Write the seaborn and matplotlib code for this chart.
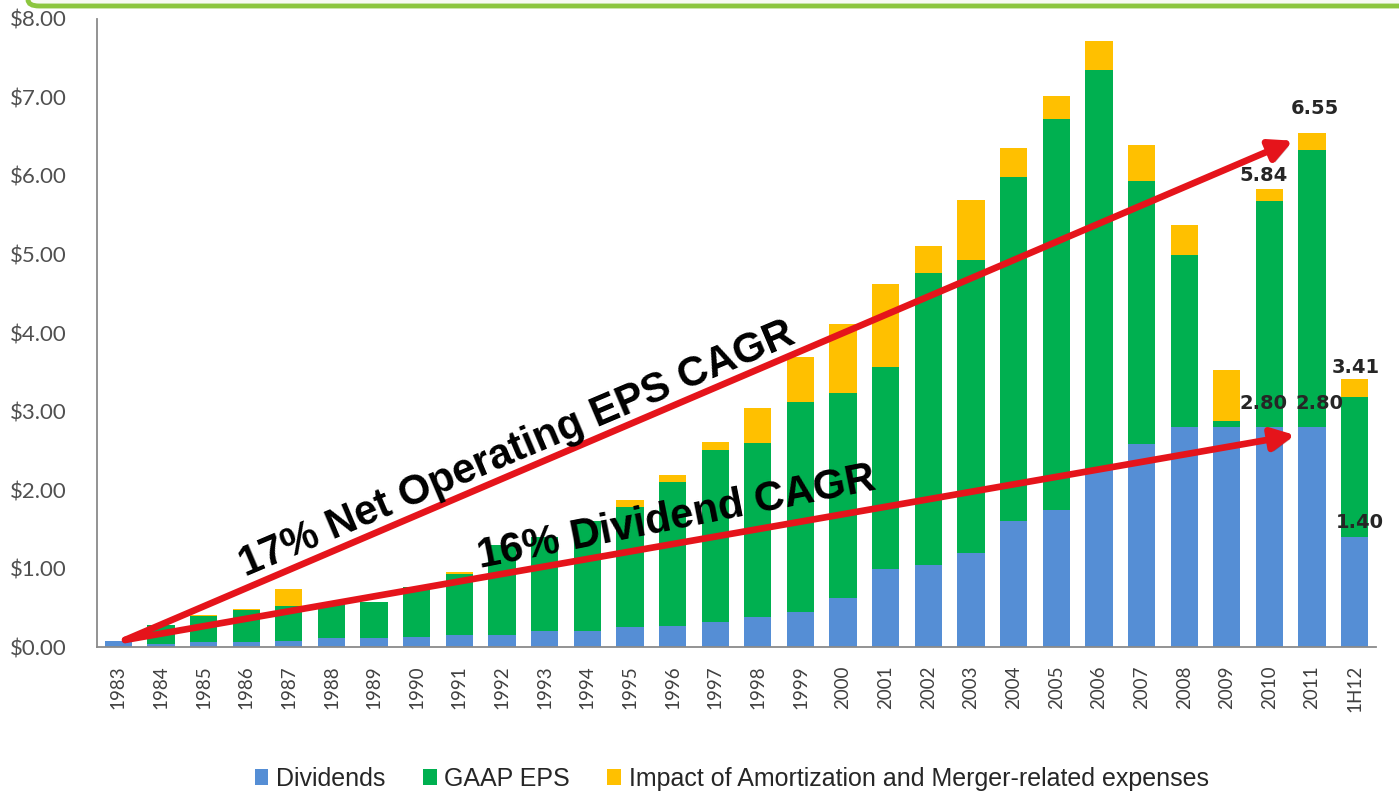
import pandas as pd
import matplotlib
matplotlib.use("Agg")
import matplotlib.pyplot as plt
import matplotlib.patheffects as pe
from matplotlib.patches import Patch, FancyBboxPatch
import seaborn as sns

years = ["1983", "1984", "1985", "1986", "1987", "1988", "1989", "1990", "1991", "1992",
         "1993", "1994", "1995", "1996", "1997", "1998", "1999", "2000", "2001", "2002",
         "2003", "2004", "2005", "2006", "2007", "2008", "2009", "2010", "2011", "1H12"]

dividends = [0.08, 0.04, 0.06, 0.07, 0.08, 0.11, 0.11, 0.13, 0.15, 0.15,
             0.20, 0.21, 0.26, 0.27, 0.32, 0.38, 0.44, 0.63, 1.00, 1.04,
             1.20, 1.61, 1.75, 2.25, 2.59, 2.80, 2.80, 2.80, 2.80, 1.40]

gaap_eps = [0.08, 0.28, 0.40, 0.47, 0.52, 0.55, 0.57, 0.76, 0.93, 1.30,
            1.40, 1.60, 1.78, 2.10, 2.51, 2.60, 3.12, 3.23, 3.57, 4.77,
            4.93, 5.99, 6.73, 7.35, 5.94, 5.00, 2.88, 5.68, 6.33, 3.19]

# GAAP EPS + impact of amortization and merger-related expenses
operating_eps = [0.08, 0.28, 0.41, 0.49, 0.74, 0.55, 0.57, 0.76, 0.95, 1.30,
                 1.40, 1.60, 1.87, 2.19, 2.61, 3.05, 3.69, 4.11, 4.63, 5.11,
                 5.69, 6.36, 7.02, 7.72, 6.39, 5.37, 3.53, 5.84, 6.55, 3.41]

legend_labels = ["Dividends", "GAAP EPS", "Impact of Amortization and Merger-related expenses"]

df = pd.DataFrame({"year": years, "dividends": dividends,
                   "gaap_eps": gaap_eps, "operating_eps": operating_eps})

BLUE = "#558ED5"
GREEN = "#00B050"
YELLOW = "#FFC000"
RED = "#E5141B"

sns.set_theme(style="white")
plt.rcParams["font.family"] = ["Lato", "DejaVu Sans"]

fig = plt.figure(figsize=(13.99, 7.98), dpi=100)
ax = fig.add_axes([0.0693, 0.1892, 0.9143, 0.787])

# overlapping bars drawn tallest first give the stacked look
sns.barplot(data=df, x="year", y="operating_eps", order=years, color=YELLOW,
            saturation=1, width=0.64, linewidth=0, ax=ax)
sns.barplot(data=df, x="year", y="gaap_eps", order=years, color=GREEN,
            saturation=1, width=0.64, linewidth=0, ax=ax)
sns.barplot(data=df, x="year", y="dividends", order=years, color=BLUE,
            saturation=1, width=0.64, linewidth=0, ax=ax)

ax.set_xlim(-0.5, len(years) - 0.5)
ax.set_ylim(0, 8)
ax.set_yticks(range(0, 9))
ax.set_yticklabels([f"${v:.2f}" for v in range(0, 9)])
ax.set_xlabel("")
ax.set_ylabel("")
ax.tick_params(axis="y", length=0, pad=22, labelsize=16, labelcolor="#505050")
ax.tick_params(axis="x", length=0, pad=13, labelsize=13.5, labelcolor="#404040", rotation=90)

for side in ["top", "right"]:
    ax.spines[side].set_visible(False)
for side in ["left", "bottom"]:
    ax.spines[side].set_color("#8a8a8a")
    ax.spines[side].set_linewidth(1.3)

# CAGR arrows
shadow = [pe.withSimplePatchShadow(offset=(2, -2), alpha=0.3)]
for tip in [(27.55, 6.45), (27.6, 2.70)]:
    ann = ax.annotate("", xy=tip, xytext=(0.16, 0.09),
                      arrowprops=dict(arrowstyle="-|>", lw=4.8, color=RED,
                                      mutation_scale=34, shrinkA=0, shrinkB=0))
    ann.arrow_patch.set_path_effects(shadow)

ax.text(9.35, 2.52, "17% Net Operating EPS CAGR", rotation=23, rotation_mode="anchor",
        ha="center", va="center", fontsize=30, fontweight="bold",
        family=["Liberation Sans", "DejaVu Sans"], color="black")
ax.text(13.1, 1.64, "16% Dividend CAGR", rotation=11.2, rotation_mode="anchor",
        ha="center", va="center", fontsize=30, fontweight="bold",
        family=["Liberation Sans", "DejaVu Sans"], color="black")

# data labels
i2010, i2011, ih12 = years.index("2010"), years.index("2011"), years.index("1H12")
labels = [
    (i2011 + 0.07, operating_eps[i2011] + 0.31, operating_eps[i2011]),
    (i2010 - 0.15, operating_eps[i2010] + 0.16, operating_eps[i2010]),
    (i2010 - 0.15, dividends[i2010] + 0.30, dividends[i2010]),
    (i2011 + 0.18, dividends[i2011] + 0.30, dividends[i2011]),
    (ih12 + 0.03, operating_eps[ih12] + 0.15, operating_eps[ih12]),
    (ih12 + 0.12, dividends[ih12] + 0.18, dividends[ih12]),
]
for x, y, v in labels:
    ax.text(x, y, f"{v:.2f}", ha="center", va="center", fontsize=14,
            fontweight="bold", family="DejaVu Sans", color="#262626")

# legend
handles = [Patch(facecolor=c, edgecolor="none") for c in [BLUE, GREEN, YELLOW]]
fig.legend(handles, legend_labels, loc="center", bbox_to_anchor=(0.523, 0.024),
           ncol=3, frameon=False, handlelength=0.55, handleheight=0.55,
           handletextpad=0.3, columnspacing=1.5,
           prop={"family": ["Liberation Sans", "DejaVu Sans"], "size": 18})

# green frame edge at top of the slide
frame = FancyBboxPatch((28 / 1399, 1 - 6 / 798), 1.2, 0.2, transform=fig.transFigure,
                       boxstyle="round,pad=0,rounding_size=0.008",
                       facecolor="#f7faf3", edgecolor="#8CC63F", linewidth=3.5,
                       clip_on=False)
fig.patches.append(frame)

fig.savefig("out.png", dpi=100)
plt.close(fig)
